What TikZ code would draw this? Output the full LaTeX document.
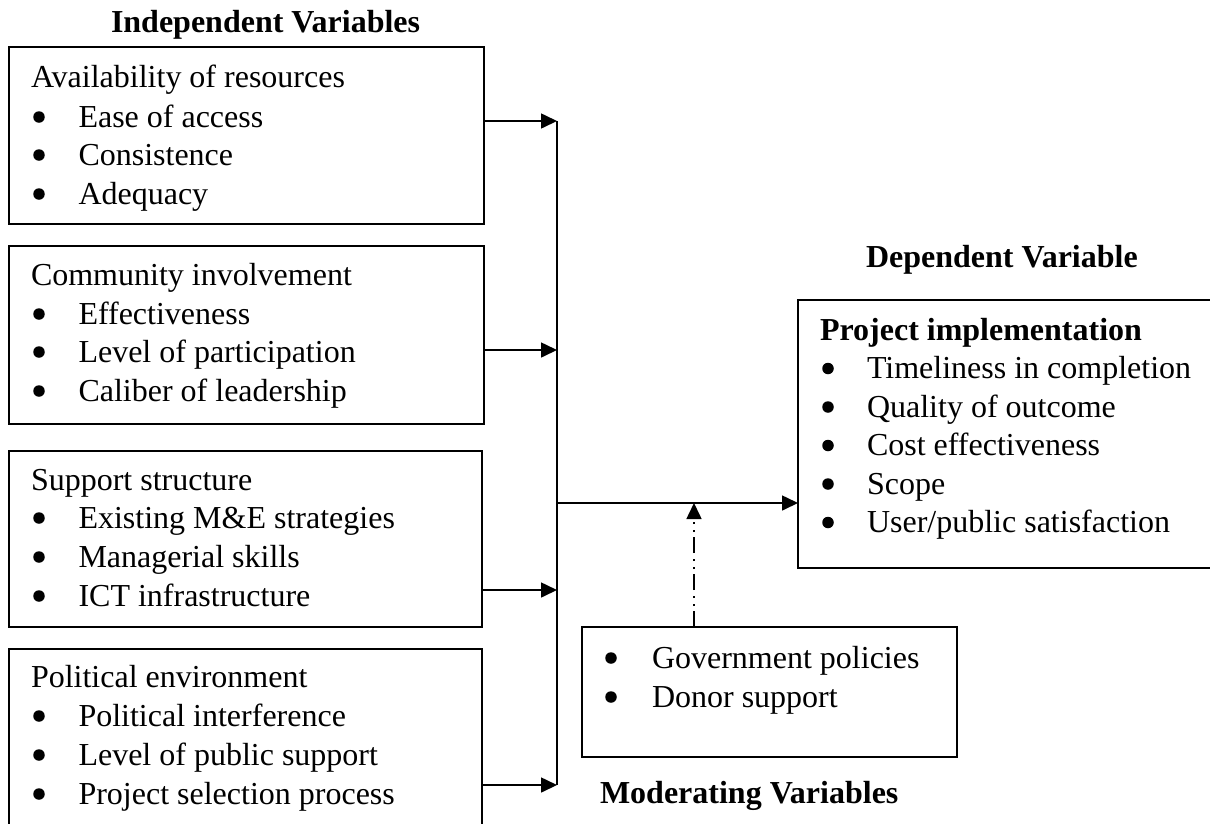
\documentclass[tikz,border=0pt]{standalone}
\usepackage{fontspec}
\setmainfont{Liberation Serif}
\usetikzlibrary{arrows.meta}
\begin{document}
\begin{tikzpicture}[x=1pt,y=-1pt,
  every node/.style={inner sep=0pt,outer sep=0pt,font=\fontsize{32}{38}\selectfont},
  frame/.style={draw,line width=1.6pt,anchor=north west},
  txt/.style={anchor=base west},
  bul/.style={circle,fill,minimum size=11.5pt,yshift=10pt},
  heading/.style={anchor=base west,font=\fontsize{32}{38}\selectfont\bfseries},
  bus/.style={line width=1.6pt},
  link/.style={line width=1.6pt,-{Triangle[length=16pt,width=15pt]}},
  modlink/.style={link,dash pattern=on 16pt off 5pt on 2pt off 6pt on 2pt off 6pt}]
\useasboundingbox (0,0) rectangle (1210,823);

% independent variable boxes
\node[frame,minimum width=475pt,minimum height=177pt] (b1) at (9,47) {};
\node[frame,minimum width=475pt,minimum height=178pt] (b2) at (9,246) {};
\node[frame,minimum width=473pt,minimum height=176pt] (b3) at (9,451) {};
\node[frame,minimum width=473pt,minimum height=200pt] (b4) at (9,649) {};

% dependent and moderating boxes
\node[frame,minimum width=420pt,minimum height=268pt] (pi) at (798,300) {};
\node[frame,minimum width=375pt,minimum height=130pt] (mv) at (582,627) {};

% headings
\node[heading] (hind) at (111,32) {Independent Variables};
\node[heading] (hdep) at (866,267) {Dependent Variable};
\node[heading] (hmod) at (600,803) {Moderating Variables};

% box 1
\node[txt] (t1) at (31,87) {Availability of resources};
\node[bul] (p11) at (39,127) {}; \node[txt] (t11) at (78.5,127) {Ease of access};
\node[bul] (p12) at (39,165) {}; \node[txt] (t12) at (78.5,165) {Consistence};
\node[bul] (p13) at (39,204) {}; \node[txt] (t13) at (78.5,204) {Adequacy};

% box 2
\node[txt] (t2) at (31,285) {Community involvement};
\node[bul] (p21) at (39,324) {}; \node[txt] (t21) at (78.5,324) {Effectiveness};
\node[bul] (p22) at (39,362) {}; \node[txt] (t22) at (78.5,362) {Level of participation};
\node[bul] (p23) at (39,401) {}; \node[txt] (t23) at (78.5,401) {Caliber of leadership};

% box 3
\node[txt] (t3) at (31,490) {Support structure};
\node[bul] (p31) at (39,528) {}; \node[txt] (t31) at (78.5,528) {Existing M\&E strategies};
\node[bul] (p32) at (39,567) {}; \node[txt] (t32) at (78.5,567) {Managerial skills};
\node[bul] (p33) at (39,606) {}; \node[txt] (t33) at (78.5,606) {ICT infrastructure};

% box 4
\node[txt] (t4) at (31,687) {Political environment};
\node[bul] (p41) at (39,726) {}; \node[txt] (t41) at (78.5,726) {Political interference};
\node[bul] (p42) at (39,765) {}; \node[txt] (t42) at (78.5,765) {Level of public support};
\node[bul] (p43) at (39,804) {}; \node[txt] (t43) at (78.5,804) {Project selection process};

% project implementation
\node[heading] (tp) at (820,340) {Project implementation};
\node[bul] (pp1) at (828,378.5) {}; \node[txt] (tp1) at (867,378.5) {Timeliness in completion};
\node[bul] (pp2) at (828,417) {}; \node[txt] (tp2) at (867,417) {Quality of outcome};
\node[bul] (pp3) at (828,455.5) {}; \node[txt] (tp3) at (867,455.5) {Cost effectiveness};
\node[bul] (pp4) at (828,494) {}; \node[txt] (tp4) at (867,494) {Scope};
\node[bul] (pp5) at (828,532.5) {}; \node[txt] (tp5) at (867,532.5) {User/public satisfaction};

% moderating variables
\node[bul] (pm1) at (611,668) {}; \node[txt] (tm1) at (652,668) {Government policies};
\node[bul] (pm2) at (611,707) {}; \node[txt] (tm2) at (652,707) {Donor support};

% collecting line and arrows
\coordinate (j1) at (557,121);
\coordinate (j2) at (557,350);
\coordinate (j3) at (557,590);
\coordinate (j4) at (557,785);
\coordinate (jm) at (557,503);
\coordinate (mm) at (694,503);

\draw[bus] (j1) -- (j4);
\draw[link] (b1.east |- j1) -- (j1);
\draw[link] (b2.east |- j2) -- (j2);
\draw[link] (b3.east |- j3) -- (j3);
\draw[link] (b4.east |- j4) -- (j4);
\draw[link] (jm) -- (pi.west |- jm);
\draw[modlink] (mv.north -| mm) -- (mm);
\end{tikzpicture}
\end{document}
